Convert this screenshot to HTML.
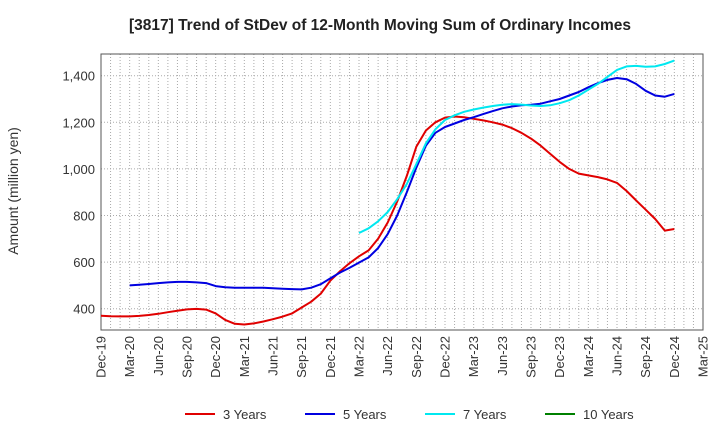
<!DOCTYPE html>
<html><head><meta charset="utf-8"><style>
body{margin:0;background:#fff;font-family:"Liberation Sans",sans-serif;}
</style></head><body>
<svg id="chart" width="720" height="440" xmlns="http://www.w3.org/2000/svg" font-family="Liberation Sans, sans-serif">
<text x="380" y="30" text-anchor="middle" font-size="15.5" font-weight="bold" fill="#222">[3817]  Trend of StDev of 12-Month Moving Sum of Ordinary Incomes</text>
<text transform="translate(18,191) rotate(-90)" text-anchor="middle" font-size="14" fill="#333">Amount (million yen)</text>
<g id="grid"></g><g id="axes"></g><g id="series"></g><g id="legend"></g>
</svg>
<script>
const xLabels=["Dec-19","Mar-20","Jun-20","Sep-20","Dec-20","Mar-21","Jun-21","Sep-21","Dec-21","Mar-22","Jun-22","Sep-22","Dec-22","Mar-23","Jun-23","Sep-23","Dec-23","Mar-24","Jun-24","Sep-24","Dec-24","Mar-25"];
const yTicks=[400,600,800,1000,1200,1400];
const s3=[370,368,367,367,369,373,378,385,391,397,399,396,380,352,335,332,337,345,355,366,380,405,430,465,520,560,595,625,650,700,770,860,970,1095,1165,1200,1220,1225,1222,1215,1208,1200,1190,1175,1155,1130,1100,1065,1030,1000,980,972,965,955,940,905,865,825,785,735,742];
const s5=[null,null,null,500,503,506,510,513,515,515,513,510,497,492,490,490,490,490,488,486,484,483,490,505,530,555,575,598,620,660,720,800,900,1005,1100,1155,1180,1195,1210,1222,1235,1248,1260,1268,1273,1275,1280,1290,1300,1315,1330,1350,1368,1382,1390,1385,1365,1335,1315,1310,1322];
const s7=[null,null,null,null,null,null,null,null,null,null,null,null,null,null,null,null,null,null,null,null,null,null,null,null,null,null,null,725,745,775,815,870,935,1020,1110,1170,1210,1230,1245,1255,1263,1270,1275,1278,1276,1272,1270,1273,1282,1295,1315,1340,1365,1395,1425,1440,1442,1438,1440,1450,1465];
const s10=[];
const X0=101,X1=703,Y0=54,Y1=330;
const xm=i=>X0+i*(X1-X0)/63;
const y=v=>308.7-(v-400)*0.233;
const NS="http://www.w3.org/2000/svg";
function mk(tag,attrs,parent,txt){const e=document.createElementNS(NS,tag);for(const k in attrs)e.setAttribute(k,attrs[k]);if(txt!=null)e.textContent=txt;document.getElementById(parent).appendChild(e);return e;}
for(let m=0;m<=63;m++){const l=mk('line',{x1:xm(m),x2:xm(m),y1:Y0,y2:Y1,stroke:'#aaa','stroke-width':1,'stroke-dasharray':'1,2'},'grid');

}
yTicks.forEach(v=>{const l=mk('line',{x1:X0,x2:X1,y1:y(v),y2:y(v),stroke:'#aaa','stroke-width':1,'stroke-dasharray':'1,2'},'grid');


const t=mk('text',{x:X0-6,y:y(v)+5,'text-anchor':'end','font-size':13,fill:'#333'},'axes',v.toLocaleString('en-US'));

});
const fr=mk('rect',{x:X0,y:Y0,width:X1-X0,height:Y1-Y0,fill:'none',stroke:'#555','stroke-width':1},'axes');


xLabels.forEach((s,i)=>{const x=xm(i*3);const t=mk('text',{transform:`translate(${x+4.5},${Y1+6}) rotate(-90)`,'text-anchor':'end','font-size':13,fill:'#333'},'axes',s);

});
function line(arr,color,name){let d='';let pen=false;arr.forEach((v,i)=>{if(v==null){pen=false;return;}d+=(pen?'L':'M')+xm(i).toFixed(1)+','+y(v).toFixed(1);pen=true;});
if(!d)return;const p=mk('path',{d:d,fill:'none',stroke:color,'stroke-width':2,'stroke-linejoin':'round'},'series');

}
line(s3,'#e00000','line-3-years');line(s5,'#0000e0','line-5-years');line(s7,'#00e8f0','line-7-years');line(s10,'#008000','line-10-years');
const leg=[["3 Years","#e00000",185],["5 Years","#0000e0",305],["7 Years","#00e8f0",425],["10 Years","#008000",545]];
leg.forEach(([n,c,x])=>{const g=mk('g',{},'legend');


const l=document.createElementNS(NS,'line');l.setAttribute('x1',x);l.setAttribute('x2',x+30);l.setAttribute('y1',414);l.setAttribute('y2',414);l.setAttribute('stroke',c);l.setAttribute('stroke-width',2);g.appendChild(l);
const t=document.createElementNS(NS,'text');t.setAttribute('x',x+38);t.setAttribute('y',419);t.setAttribute('font-size',13);t.setAttribute('fill','#333');t.textContent=n;g.appendChild(t);});
</script>
</body></html>
